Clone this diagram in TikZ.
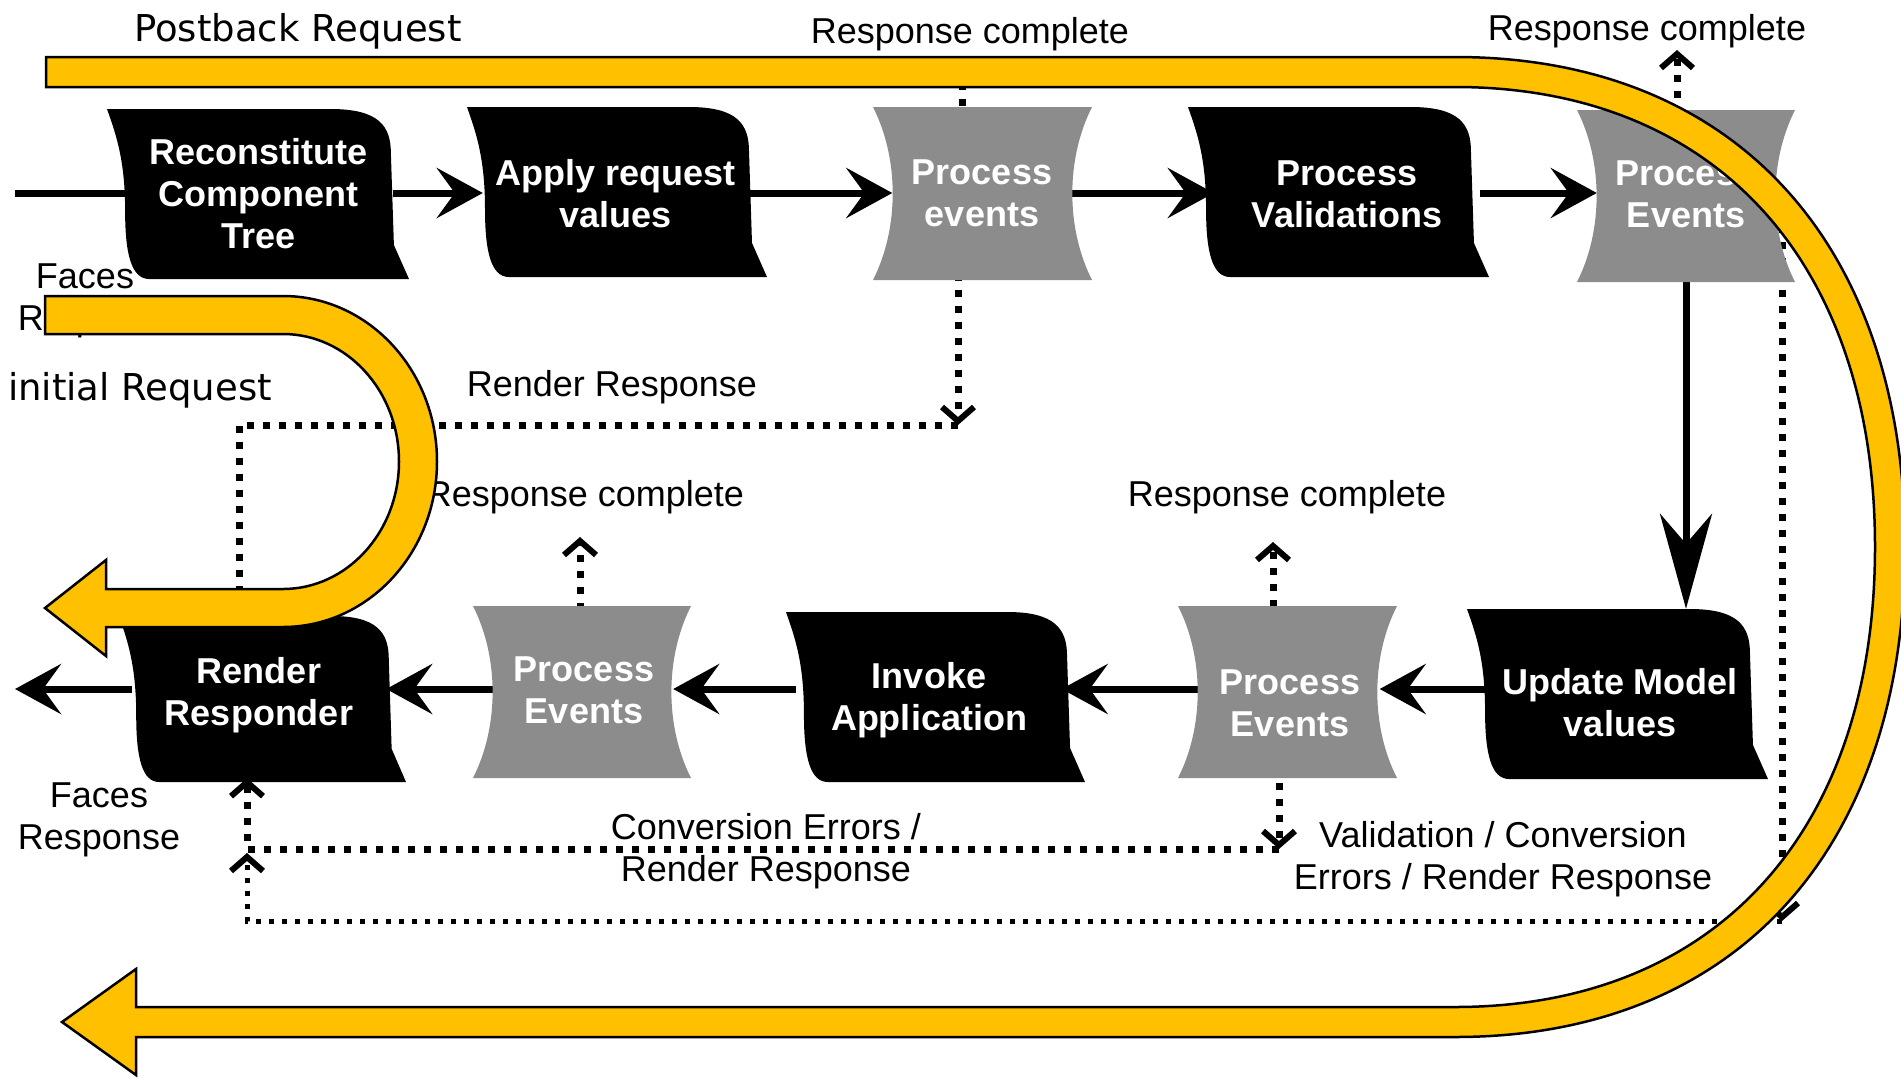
\documentclass[tikz,border=0pt]{standalone}
\usepackage{fontspec}
\setmainfont{Liberation Sans}
\newfontfamily\dejavu{DejaVu Sans}
\usetikzlibrary{arrows.meta}
\pgfdeclarelayer{lines}
\pgfdeclarelayer{shapes}
\pgfdeclarelayer{fg}
\pgfsetlayers{lines,shapes,main,fg}
\definecolor{bandyellow}{HTML}{FFC000}
\definecolor{procgray}{HTML}{8C8C8C}
\newcommand\docshape[4]{%
  \begin{pgfonlayer}{shapes}
  \fill[black,shift={(#1,#2)}] (0,0) -- ({0.74*#3},0)
    .. controls ({0.9*#3},0) and ({0.94*#3},{0.1*#4}) .. ({0.94*#3},{0.26*#4})
    -- ({0.95*#3},{0.8*#4}) -- (#3,#4) -- ({0.14*#3},#4)
    .. controls ({0.08*#3},#4) and ({0.06*#3},{0.85*#4}) .. ({0.06*#3},{0.6*#4})
    .. controls ({0.06*#3},{0.3*#4}) and ({0.03*#3},{0.15*#4}) .. (0,0) -- cycle;
  \end{pgfonlayer}}
\newcommand\hgshape[4]{%
  \begin{pgfonlayer}{shapes}
  \fill[procgray,shift={(#1,#2)}] (0,0) -- (#3,0)
    .. controls ({0.88*#3},{0.3*#4}) and ({0.88*#3},{0.7*#4}) .. (#3,#4)
    -- (0,#4)
    .. controls ({0.12*#3},{0.7*#4}) and ({0.12*#3},{0.3*#4}) .. (0,0) -- cycle;
  \end{pgfonlayer}}
\begin{document}
\begin{tikzpicture}[x=1pt,y=-1pt,
  boxtext/.style={text=white, font=\bfseries\fontsize{36}{42}\selectfont, align=center, inner sep=0pt},
  lbl/.style={font=\fontsize{36}{42}\selectfont, align=center, inner sep=0pt},
  flow/.style={line width=7pt, -{Stealth[length=46pt,width=50pt,inset=18pt]}},
  flowplain/.style={line width=7pt},
  dotline/.style={line width=7pt, dash pattern=on 7pt off 9pt},
  dotthin/.style={line width=5pt, dash pattern=on 5pt off 8pt},
  chev/.style={-{Straight Barb[length=14pt,width=32pt,line width=6pt]}},
  band/.style={fill=bandyellow, draw=black, line width=2.5pt, line join=miter}]
\useasboundingbox (0,0) rectangle (1901,1077);
\begin{pgfonlayer}{lines}
\fill[white] (0,0) rectangle (1901,1077);
\end{pgfonlayer}

% shapes
\docshape{107}{109}{302}{170}
\docshape{467}{107}{300}{170}
\hgshape{873}{107}{219}{173}
\docshape{1188}{107}{301}{170}
\hgshape{1577}{110}{218}{172}
\docshape{1467}{609}{301}{170}
\hgshape{1178}{606}{219}{172}
\docshape{786}{612}{299}{170}
\hgshape{473}{606}{218}{172}
\docshape{119}{616}{287}{166}

% process nodes
\node[boxtext, minimum width=267pt, minimum height=170pt] (b1) at (258.8,194) {Reconstitute\\Component\\Tree};
\node[boxtext, minimum width=265pt, minimum height=170pt] (b2) at (615.5,194) {Apply request\\values};
\node[boxtext, minimum width=179pt, minimum height=173pt] (g3) at (982,193.5) {Process\\events};
\node[boxtext, minimum width=266pt, minimum height=170pt] (b4) at (1347,194) {Process\\Validations};
\node[boxtext, minimum width=178pt, minimum height=172pt] (g5) at (1686,194) {Process\\Events};
\node[boxtext, minimum width=266pt, minimum height=188pt] (b6) at (1620,703) {Update Model\\values};
\node[boxtext, minimum width=179pt, minimum height=172pt] (g7) at (1290,703) {Process\\Events};
\node[boxtext, minimum width=265pt, minimum height=170pt] (b8) at (929,700) {Invoke\\Application};
\node[boxtext, minimum width=178pt, minimum height=172pt] (g9) at (584,690) {Process\\Events};
\node[boxtext, minimum width=254pt, minimum height=166pt] (b10) at (259,695) {Render\\Responder};

% labels
\node[lbl, font=\dejavu\fontsize{37}{44}\selectfont] (pb) at (298,31) {Postback Request};
\node[lbl, font=\dejavu\fontsize{37}{44}\selectfont] (ir) at (140,390) {initial Request};
\node[lbl] (fq) at (85,301) {Faces\\Request};
\node[lbl] (fr) at (99,820) {Faces\\Response};
\node[lbl] (rc1) at (970,34) {Response complete};
\node[lbl] (rc2) at (1647,31) {Response complete};
\node[lbl] (rc3) at (585,497) {Response complete};
\node[lbl] (rc4) at (1287,497) {Response complete};
\node[lbl] (rr) at (612,387) {Render Response};
\node[lbl] (ce) at (766,851) {Conversion Errors /\\Render Response};
\node[lbl] (ve) at (1503,859) {Validation / Conversion\\Errors / Render Response};

% coordinates
\coordinate (rowt) at (0,193);
\coordinate (rowb) at (0,689);
\coordinate (inL) at (15,193);
\coordinate (outL) at (15,689);
\coordinate (t3) at (962,83);
\coordinate (c1) at (958,425);
\coordinate (c2) at (239,425);
\coordinate (t5) at (1677,50);
\coordinate (t9) at (580,537);
\coordinate (t7) at (1273,542);
\coordinate (c3) at (1279,849);
\coordinate (c4) at (247,849);
\coordinate (c5) at (1782,921);
\coordinate (c6) at (247,921);

\begin{pgfonlayer}{lines}
% main flow
\draw[flowplain] (inL) -- (b1.west |- rowt);
\draw[flow] (b1.east |- rowt) -- (b2.west |- rowt);
\draw[flow] (b2.east |- rowt) -- (g3.west |- rowt);
\draw[flow] (g3.east |- rowt) -- (b4.west |- rowt);
\draw[flow] (b4.east |- rowt) -- (g5.west |- rowt);
\draw[line width=7pt, -{Stealth[length=95pt,width=52pt,inset=30pt]}] (g5.south) -- (g5.south |- b6.north);
\draw[flow] (b6.west |- rowb) -- (g7.east |- rowb);
\draw[flow] (g7.west |- rowb) -- (b8.east |- rowb);
\draw[flow] (b8.west |- rowb) -- (g9.east |- rowb);
\draw[flow] (g9.west |- rowb) -- (b10.east |- rowb);
\draw[flow] (b10.west |- rowb) -- (outL);
% dotted
\draw[dotline] (t3) -- ([xshift=-20pt]g3.center);
\draw[dotline,chev] ([xshift=-24pt]g3.center) -- (c1);
\draw[dotline] (c1) -- (c2) -- (c2 |- b10.center);
\draw[dotline,chev] ([xshift=-9pt]g5.center) -- (t5);
\draw[dotline,chev] ([xshift=-4pt]g9.center) -- (t9);
\draw[dotline,chev] ([xshift=-17pt]g7.center) -- (t7);
\draw[dotline,chev] ([xshift=-11pt]g7.center) -- (c3);
\draw[dotline,chev] (c3) -- (c4) -- (c4 |- b10.south);
\draw[dotline,chev] ([xshift=96pt]g5.center) -- (c5);
\draw[dotthin,chev] (c5) -- (c6) -- ([yshift=-4pt]c4);
\end{pgfonlayer}

\begin{pgfonlayer}{fg}
\path[band] (46,57) -- (1455,57) .. controls (1734,57) and (1905,243) .. (1905,547)
  .. controls (1905,851) and (1734,1037) .. (1455,1037) -- (136,1037) -- (136,1075)
  -- (62,1022) -- (136,969) -- (136,1007) -- (1455,1007)
  .. controls (1715,1007) and (1875,832) .. (1875,547)
  .. controls (1875,262) and (1715,87) .. (1455,87) -- (46,87) -- cycle;
\path[band] (45,296) -- (283,296) .. controls (368,296) and (437,370) .. (437,461.5)
  .. controls (437,553) and (368,627) .. (283,627) -- (106,627) -- (106,656)
  -- (45,608) -- (106,560) -- (106,589) -- (283,589)
  .. controls (347,589) and (399,532) .. (399,461.5)
  .. controls (399,391) and (347,334) .. (283,334) -- (45,334) -- cycle;
\end{pgfonlayer}
\end{tikzpicture}
\end{document}
